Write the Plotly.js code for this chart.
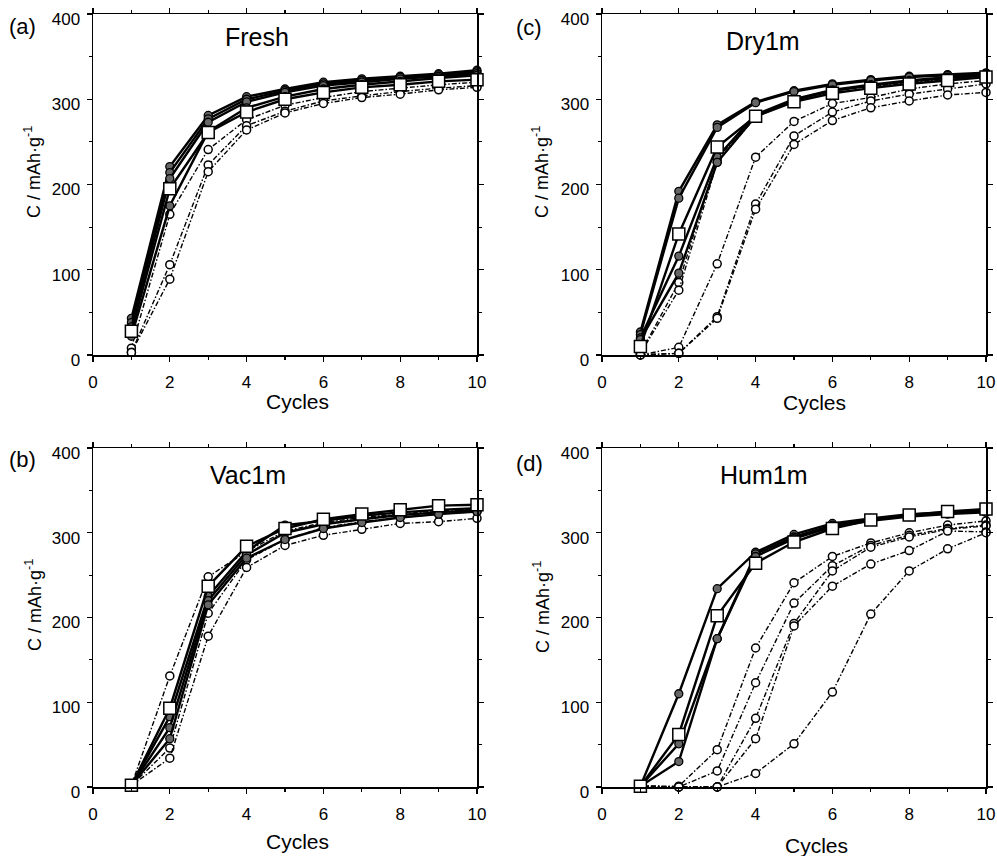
<!DOCTYPE html>
<html>
<head>
<meta charset="utf-8">
<script src="https://cdn.plot.ly/plotly-3.0.1.min.js"></script>
<style>html,body{margin:0;padding:0;background:#fff;}#chart{width:997px;height:856px;}</style>
</head>
<body>
<div id="chart"></div>
<script>
// ---- data ----
const cycles = [1, 2, 3, 4, 5, 6, 7, 8, 9, 10];
const xTickVals = [0, 2, 4, 6, 8, 10];
const yTickVals = [0, 100, 200, 300, 400];
const panelTitles = ["Fresh", "Dry1m", "Vac1m", "Hum1m"];
const panelLetters = ["(a)", "(c)", "(b)", "(d)"];

// (a) Fresh
const freshFilled = [
  [43, 221, 281, 303, 312, 320, 324, 327, 330, 334],
  [38, 214, 277, 300, 310, 318, 322, 326, 329, 332],
  [33, 207, 273, 297, 308, 316, 320, 324, 327, 330],
  [22, 175, 262, 290, 303, 312, 317, 321, 325, 328]
];
const freshSquare = [28, 195, 261, 285, 300, 308, 314, 317, 321, 323];
const freshOpen = [
  [8, 165, 241, 276, 293, 302, 309, 313, 317, 320],
  [3, 106, 223, 269, 286, 298, 304, 309, 313, 316],
  [3, 89, 215, 264, 284, 295, 302, 306, 311, 314]
];

// (c) Dry1m
const dryFilled = [
  [27, 192, 270, 297, 310, 318, 323, 327, 329, 331],
  [24, 184, 267, 296, 309, 317, 322, 326, 328, 330],
  [20, 116, 232, 282, 300, 311, 317, 322, 326, 329],
  [18, 96, 226, 280, 299, 310, 316, 321, 325, 328]
];
const drySquare = [10, 142, 244, 280, 297, 307, 313, 318, 322, 326];
const dryOpen = [
  [2, 85, 230, 281, 300, 311, 316, 320, 324, 327],
  [2, 76, 226, 279, 299, 310, 315, 319, 323, 326],
  [0, 9, 107, 232, 274, 295, 302, 312, 318, 322],
  [0, 2, 45, 177, 257, 285, 298, 306, 312, 318],
  [0, 2, 43, 171, 247, 275, 290, 298, 305, 308]
];

// (b) Vac1m
const vacFilled = [
  [2, 83, 225, 278, 309, 314, 320, 324, 327, 329],
  [2, 70, 220, 274, 300, 310, 316, 321, 324, 327],
  [2, 57, 215, 270, 292, 305, 312, 318, 322, 325]
];
const vacSquare = [2, 93, 237, 284, 305, 316, 322, 327, 332, 333];
const vacOpen = [
  [2, 131, 248, 278, 302, 312, 318, 322, 326, 328],
  [2, 46, 205, 268, 292, 306, 313, 318, 322, 325],
  [2, 34, 178, 259, 285, 297, 304, 311, 313, 317]
];

// (d) Hum1m
const humFilled = [
  [1, 110, 234, 277, 298, 311, 317, 322, 324, 326],
  [1, 51, 175, 275, 295, 309, 316, 320, 323, 325],
  [1, 30, 175, 272, 293, 307, 314, 319, 322, 324]
];
const humSquare = [1, 62, 202, 264, 289, 305, 315, 321, 325, 328];
const humOpen = [
  [1, 1, 44, 164, 241, 272, 288, 300, 309, 314],
  [1, 0, 19, 123, 217, 261, 285, 297, 305, 309],
  [1, 0, 0, 81, 193, 255, 283, 295, 304, 308],
  [1, 0, 0, 57, 190, 237, 263, 279, 302, 301],
  [1, 0, 0, 16, 51, 112, 204, 255, 281, 300]
];

const panels = [
  {filled: freshFilled, square: freshSquare, open: freshOpen, xa: "x", ya: "y"},
  {filled: dryFilled, square: drySquare, open: dryOpen, xa: "x2", ya: "y2"},
  {filled: vacFilled, square: vacSquare, open: vacOpen, xa: "x3", ya: "y3"},
  {filled: humFilled, square: humSquare, open: humOpen, xa: "x4", ya: "y4"}
];

// ---- traces ----
const traces = [];
panels.forEach(p => {
  p.open.forEach(v => traces.push({
    x: cycles, y: v, xaxis: p.xa, yaxis: p.ya, type: "scatter", mode: "lines+markers",
    cliponaxis: false,
    line: {color: "#000", width: 1.4, dash: "5px,2px,1.5px,2px"},
    marker: {symbol: "circle", size: 8, color: "#fff", line: {color: "#000", width: 1.5}},
    showlegend: false, hoverinfo: "skip"
  }));
  p.filled.forEach(v => traces.push({
    x: cycles, y: v, xaxis: p.xa, yaxis: p.ya, type: "scatter", mode: "lines+markers",
    cliponaxis: false,
    line: {color: "#000", width: 2.4},
    marker: {symbol: "circle", size: 8, color: "#666", line: {color: "#000", width: 1.3}},
    showlegend: false, hoverinfo: "skip"
  }));
  traces.push({
    x: cycles, y: p.square, xaxis: p.xa, yaxis: p.ya, type: "scatter", mode: "lines+markers",
    cliponaxis: false,
    line: {color: "#000", width: 2.4},
    marker: {symbol: "square", size: 12, color: "#fff", line: {color: "#000", width: 1.5}},
    showlegend: false, hoverinfo: "skip"
  });
});

// ---- layout ----
const font = {family: "Liberation Sans, Arial, sans-serif", color: "#000", size: 17};
function xAxis(domain, anchor) {
  return {
    domain: domain, anchor: anchor, range: [0, 10], tickvals: xTickVals,
    ticks: "outside", ticklen: 5, tickwidth: 1.3, tickcolor: "#000",
    minor: {dtick: 1, ticks: "outside", ticklen: 3, tickcolor: "#000", tickwidth: 1.2},
    showline: true, linecolor: "#000", linewidth: 1.5, mirror: "ticks",
    showgrid: false, zeroline: false, tickfont: {size: 17}, ticklabelstandoff: 6,
    fixedrange: true
  };
}
function yAxis(domain, anchor) {
  return {
    domain: domain, anchor: anchor, range: [0, 400], tickvals: yTickVals,
    ticks: "outside", ticklen: 5, tickwidth: 1.3, tickcolor: "#000",
    minor: {dtick: 50, ticks: "outside", ticklen: 3, tickcolor: "#000", tickwidth: 1.2},
    showline: true, linecolor: "#000", linewidth: 1.5, mirror: "ticks",
    showgrid: false, zeroline: false, tickfont: {size: 17}, ticklabelstandoff: 3,
    ticklabelshift: 5, fixedrange: true
  };
}
const xdL = [93/997, 477/997], xdR = [602/997, 986/997];
const ydT = [1 - 355/856, 1 - 14/856], ydB = [1 - 787/856, 1 - 448/856];

const annotations = [];
const axisPairs = [["x", "y"], ["x2", "y2"], ["x3", "y3"], ["x4", "y4"]];
const titlePos = [[0.427, 0.932], [0.419, 0.922], [0.403, 0.92], [0.422, 0.92]];
axisPairs.forEach((ap, i) => {
  annotations.push({
    text: panelTitles[i], xref: ap[0] + " domain", yref: ap[1] + " domain",
    x: titlePos[i][0], y: titlePos[i][1], xanchor: "center", yanchor: "middle",
    showarrow: false, font: {size: 25}
  });
});
// panel letters
const letterPos = [[7, 26], [514, 28], [7, 459], [514, 463]];
letterPos.forEach((lp, i) => annotations.push({
  text: panelLetters[i], xref: "paper", yref: "paper",
  x: lp[0]/997, y: 1 - lp[1]/856, xanchor: "left", yanchor: "middle",
  showarrow: false, font: {size: 22}
}));
// axis titles
const yTitlePos = [[33, 172], [541, 172], [33, 605], [541, 607]];
yTitlePos.forEach(p => annotations.push({
  text: "C / mAh·g<sup>-1</sup>", xref: "paper", yref: "paper",
  x: p[0]/997, y: 1 - p[1]/856, xanchor: "center", yanchor: "middle",
  textangle: -90, showarrow: false, font: {size: 18}
}));
const xTitlePos = [[297, 401], [814, 402], [297, 841], [816, 845]];
xTitlePos.forEach(p => annotations.push({
  text: "Cycles", xref: "paper", yref: "paper",
  x: p[0]/997, y: 1 - p[1]/856, xanchor: "center", yanchor: "middle",
  showarrow: false, font: {size: 21}
}));

const layout = {
  width: 997, height: 856,
  margin: {l: 0, r: 0, t: 0, b: 0},
  paper_bgcolor: "#fff", plot_bgcolor: "#fff",
  font: font, showlegend: false,
  xaxis: xAxis(xdL, "y"), yaxis: yAxis(ydT, "x"),
  xaxis2: xAxis(xdR, "y2"), yaxis2: yAxis(ydT, "x2"),
  xaxis3: xAxis(xdL, "y3"), yaxis3: yAxis(ydB, "x3"),
  xaxis4: xAxis(xdR, "y4"), yaxis4: yAxis(ydB, "x4"),
  annotations: annotations
};

Plotly.newPlot("chart", traces, layout, {displayModeBar: false, staticPlot: true});
</script>
</body>
</html>
